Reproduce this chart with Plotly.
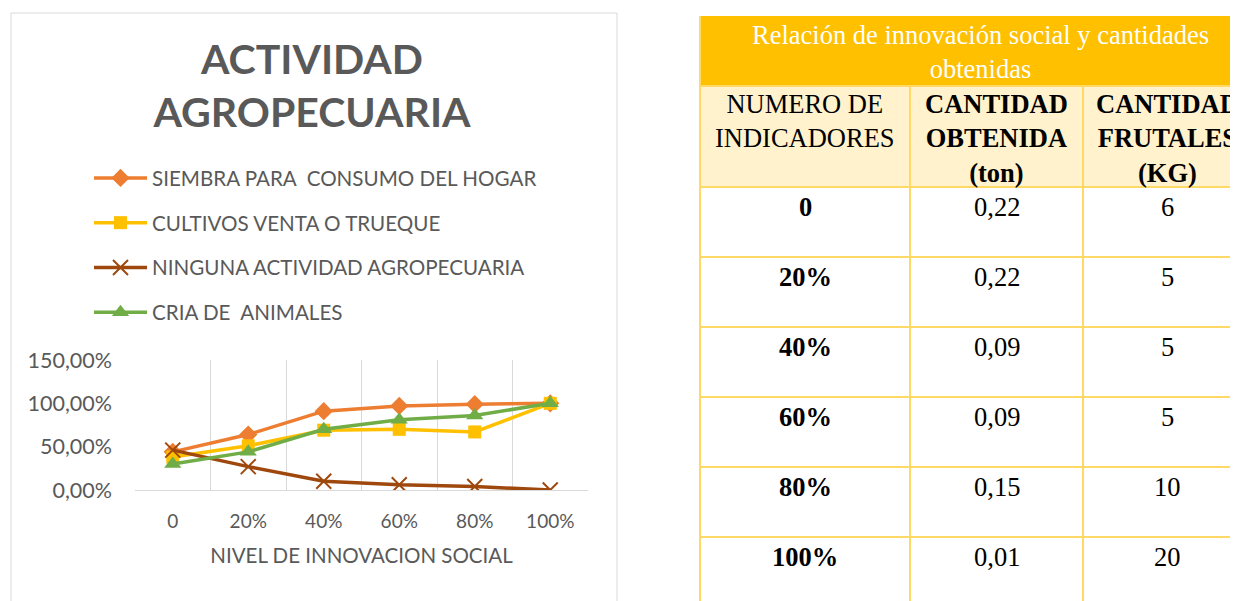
import plotly.graph_objects as go

# ---------------- data ----------------
categories = ["0", "20%", "40%", "60%", "80%", "100%"]
siembra = [0.44, 0.64, 0.91, 0.97, 0.99, 1.00]
cultivos = [0.38, 0.51, 0.69, 0.70, 0.67, 1.00]
ninguna = [0.46, 0.27, 0.10, 0.06, 0.04, 0.00]
cria = [0.30, 0.44, 0.70, 0.81, 0.86, 1.00]

series_names = [
    "SIEMBRA PARA  CONSUMO DEL HOGAR",
    "CULTIVOS VENTA O TRUEQUE",
    "NINGUNA ACTIVIDAD AGROPECUARIA",
    "CRIA DE  ANIMALES",
]

table_title = "Relación de innovación social y cantidades<br>obtenidas"
table_headers = [
    "NUMERO DE<br>INDICADORES",
    "<b>CANTIDAD<br>OBTENIDA<br>(ton)</b>",
    "<b>CANTIDAD<br>FRUTALES<br>(KG)</b>",
]
table_levels = ["0", "20%", "40%", "60%", "80%", "100%"]
table_ton = ["0,22", "0,22", "0,09", "0,09", "0,15", "0,01"]
table_kg = ["6", "5", "5", "5", "10", "20"]

# ---------------- layout constants (pixels in the page) ----------------
OFF = 8  # page body margin
W, H = 1238 - OFF, 601 - OFF
PL, PR, PT, PB = 135, 588, 360, 490


def px(x):
    return (x - PL) / (PR - PL)


def py(y):
    return (PB - y) / (PB - PT)


GREY = "#595959"
FONT = "Lato"
SERIF = "Liberation Serif"
TSIZE = 26.5

fig = go.Figure()

styles = [
    dict(color="#ED7D31", symbol="diamond", size=14),
    dict(color="#FFC000", symbol="square", size=13),
    dict(color="#9E480E", symbol="x-thin", size=15),
    dict(color="#70AD47", symbol="triangle-up", size=15),
]
values = [siembra, cultivos, ninguna, cria]

for i, (name, vals, st) in enumerate(zip(series_names, values, styles)):
    if st["symbol"] == "x-thin":
        marker = dict(symbol="x-thin", size=st["size"],
                      line=dict(color=st["color"], width=2), color=st["color"])
    else:
        marker = dict(symbol=st["symbol"], size=st["size"], color=st["color"],
                      line=dict(width=0))
    fig.add_trace(go.Scatter(
        x=categories, y=vals, name=name, mode="lines+markers",
        line=dict(color=st["color"], width=3.5),
        marker=marker, legendgroup=f"g{i}",
    ))

# ---------------- shapes ----------------
shapes = []
shapes.append(dict(type="rect", xref="paper", yref="paper",
                   x0=px(11), x1=px(617), y0=py(13), y1=py(660),
                   line=dict(color="#D9D9D9", width=1), layer="below"))

col_edges = [700, 910, 1083, 1252]
row_edges = [187, 257, 327, 397, 467, 537, 607]
BORDER = "#FFD966"

shapes.append(dict(type="rect", xref="paper", yref="paper",
                   x0=px(700), x1=px(1300), y0=py(16), y1=py(86),
                   fillcolor="#FFC000", line=dict(width=0), layer="below"))
shapes.append(dict(type="rect", xref="paper", yref="paper",
                   x0=px(700), x1=px(1300), y0=py(86), y1=py(187),
                   fillcolor="#FFF2CC", line=dict(width=0), layer="below"))
for yy in [86] + row_edges:
    shapes.append(dict(type="line", xref="paper", yref="paper",
                       x0=px(700), x1=px(1300), y0=py(yy), y1=py(yy),
                       line=dict(color=BORDER, width=2)))
shapes.append(dict(type="line", xref="paper", yref="paper",
                   x0=px(700), x1=px(700), y0=py(16), y1=py(640),
                   line=dict(color=BORDER, width=2)))
for xx in col_edges[1:]:
    shapes.append(dict(type="line", xref="paper", yref="paper",
                       x0=px(xx), x1=px(xx), y0=py(86), y1=py(640),
                       line=dict(color=BORDER, width=2)))

# ---------------- annotations ----------------
ann = []
ann.append(dict(text=table_title, xref="paper", yref="paper",
                x=px(980), y=py(18), xanchor="center", yanchor="top",
                showarrow=False, font=dict(family=SERIF, size=TSIZE, color="white")))
for j, htxt in enumerate(table_headers):
    cx = (col_edges[j] + col_edges[j + 1]) / 2
    ann.append(dict(text=htxt, xref="paper", yref="paper",
                    x=px(cx), y=py(87), xanchor="center", yanchor="top",
                    showarrow=False, font=dict(family=SERIF, size=TSIZE, color="black")))
for r in range(len(table_levels)):
    top = row_edges[r]
    cells = [f"<b>{table_levels[r]}</b>", table_ton[r], table_kg[r]]
    for j, c in enumerate(cells):
        cx = (col_edges[j] + col_edges[j + 1]) / 2
        ann.append(dict(text=c, xref="paper", yref="paper",
                        x=px(cx), y=py(top + 3), xanchor="center", yanchor="top",
                        showarrow=False, font=dict(family=SERIF, size=TSIZE, color="black")))

fig.update_layout(
    width=W, height=H,
    margin=dict(l=PL - OFF, r=W - (PR - OFF), t=PT - OFF, b=H - (PB - OFF),
                autoexpand=False),
    paper_bgcolor="white", plot_bgcolor="white",
    separators=",.",
    title=dict(text="<b>ACTIVIDAD<br>AGROPECUARIA</b>",
               font=dict(family=FONT, size=41, color=GREY),
               x=(312 - OFF) / W, xref="container", xanchor="center",
               y=1 - 66 / H, yref="container", yanchor="top"),
    showlegend=True,
    legend=dict(x=px(89), y=py(158), xanchor="left", yanchor="top",
                font=dict(family=FONT, size=20.6, color=GREY),
                itemwidth=53, tracegroupgap=15, bgcolor="rgba(0,0,0,0)",
                traceorder="grouped"),
    xaxis=dict(type="category", range=[-0.5, 5.5], tickson="boundaries",
               showgrid=True, gridcolor="#D9D9D9", gridwidth=1,
               showline=True, linecolor="#D9D9D9", linewidth=1,
               ticks="", zeroline=False, automargin=False,
               tickfont=dict(family=FONT, size=19, color=GREY),
               ticklabelstandoff=14,
               title=dict(text="NIVEL DE INNOVACION SOCIAL",
                          font=dict(family=FONT, size=20.5, color=GREY),
                          standoff=17)),
    yaxis=dict(range=[0, 1.5], dtick=0.5, tickformat=".2%",
               showgrid=False, zeroline=False, showline=False, ticks="",
               automargin=False,
               tickfont=dict(family=FONT, size=21.5, color=GREY),
               ticklabelstandoff=22),
    shapes=shapes,
    annotations=ann,
)

fig.write_html("out.html")
